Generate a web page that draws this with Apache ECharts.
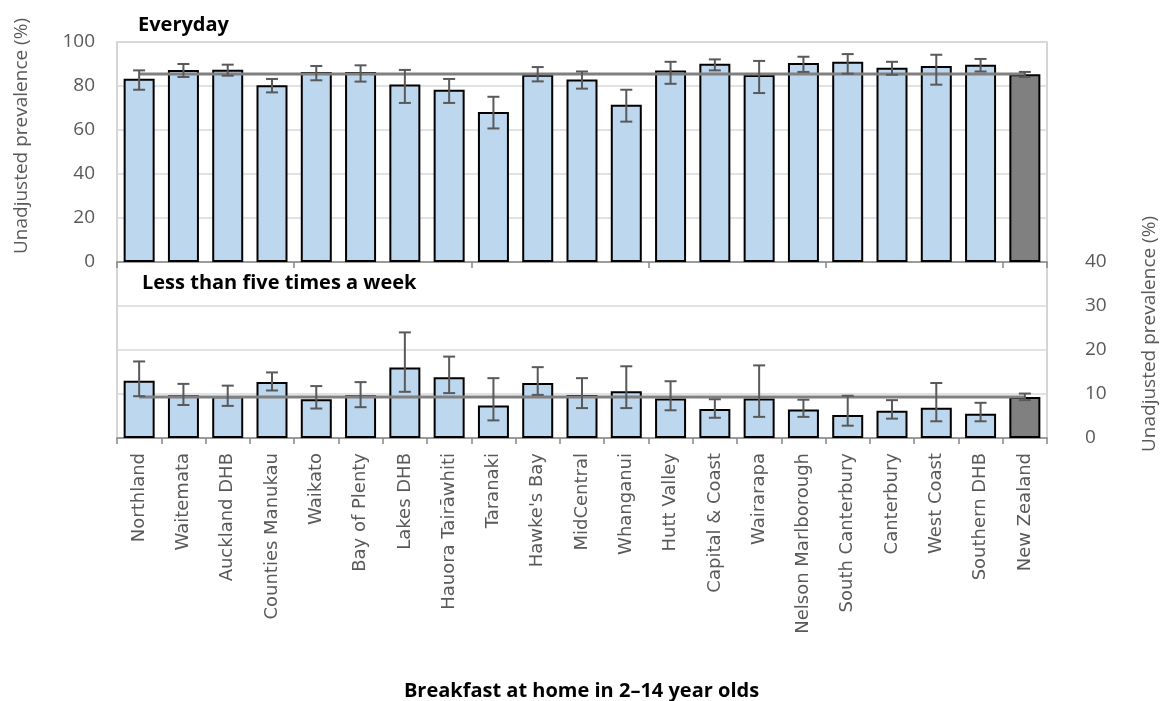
<!DOCTYPE html>
<html><head><meta charset="utf-8">
<script src="https://cdn.jsdelivr.net/npm/echarts@6/dist/echarts.min.js"></script>
<style>html,body{margin:0;padding:0;background:#fff}#c{width:1163px;height:701px}</style>
</head><body><div id="c"></div>
<script>
const categories = ['Northland','Waitemata','Auckland DHB','Counties Manukau','Waikato','Bay of Plenty','Lakes DHB','Hauora Tairāwhiti','Taranaki',"Hawke's Bay",'MidCentral','Whanganui','Hutt Valley','Capital & Coast','Wairarapa','Nelson Marlborough','South Canterbury','Canterbury','West Coast','Southern DHB','New Zealand'];
const everydayValues = [83.3,87.3,87.4,80.3,86.4,86.4,80.7,78.3,68.2,85.1,83.0,71.5,87.0,90.1,85.0,90.4,91.0,88.3,89.1,89.7,85.3];
const everydayLower  = [78.3,84.1,84.7,77.1,82.6,82.0,72.3,72.3,60.7,82.1,78.8,63.8,81.0,87.1,76.8,86.4,85.6,85.1,80.6,86.6,84.1];
const everydayUpper  = [87.1,90.0,89.7,83.2,89.1,89.4,87.3,83.2,75.1,88.6,86.6,78.3,91.0,92.1,91.4,93.3,94.5,91.0,94.2,92.3,86.4];
const lessValues = [13.0,9.7,9.5,12.7,8.8,9.7,16.0,13.8,7.4,12.5,9.8,10.6,9.0,6.6,9.0,6.5,5.2,6.2,6.9,5.5,9.3];
const lessLower  = [9.5,7.5,7.3,10.8,6.7,7.0,10.5,10.2,4.0,9.8,6.8,6.8,6.3,4.6,4.8,4.8,2.8,4.4,3.8,3.8,8.6];
const lessUpper  = [17.4,12.3,11.9,14.9,11.8,12.7,24.0,18.5,13.6,16.1,13.6,16.3,12.9,8.8,16.5,8.7,9.6,8.6,12.5,8.0,10.1];
const everydayNZ = 85.4;
const lessNZ = 9.3;
const everydayTicks = [0, 100, 20];
const lessTicks = [0, 40, 10];
const panelTitles = ['Everyday', 'Less than five times a week'];
const axisTitle = 'Unadjusted prevalence (%)';
const chartTitle = 'Breakfast at home in 2–14 year olds';

const FONT = "'Open Sans', sans-serif";
const CATFONT = "'DejaVu Sans', sans-serif";
const LBL = '#595959';

function barData(vals) {
  return vals.map((v, i) => categories[i] === 'New Zealand'
    ? { value: v, itemStyle: { color: '#808080' } } : v);
}
function errData(lo, hi) { return categories.map((c, i) => [i, lo[i], hi[i]]); }
function errRender(params, api) {
  const x = api.value(0);
  const a = api.coord([x, api.value(1)]);
  const b = api.coord([x, api.value(2)]);
  const hw = 6;
  const st = { stroke: '#595959', lineWidth: 2, fill: null };
  return { type: 'group', children: [
    { type: 'line', shape: { x1: a[0], y1: a[1], x2: b[0], y2: b[1] }, style: st },
    { type: 'line', shape: { x1: a[0]-hw, y1: a[1], x2: a[0]+hw, y2: a[1] }, style: st },
    { type: 'line', shape: { x1: b[0]-hw, y1: b[1], x2: b[0]+hw, y2: b[1] }, style: st }
  ]};
}
function lineData(v) { return [[categories[0], v], [categories[categories.length-1], v]]; }

const chart = echarts.init(document.getElementById('c'), null, { renderer: 'canvas' });
const xCommon = {
  type: 'category', data: categories, boundaryGap: true,
  axisLine: { lineStyle: { color: '#868686', width: 1.5 } },
  axisTick: { show: true, length: 6, lineStyle: { color: '#868686', width: 1.5 } },
  splitLine: { show: false }
};
const titleStyle = { fontFamily: FONT, fontWeight: 'bold', fontSize: 20, color: '#000' };
chart.setOption({
  animation: false,
  backgroundColor: '#fff',
  title: [
    { text: panelTitles[0], left: 138, top: 15, padding: 0, textStyle: titleStyle },
    { text: panelTitles[1], left: 142, top: 273, padding: 0, textStyle: titleStyle },
    { text: chartTitle, left: 'center', top: 681, padding: 0, textStyle: titleStyle }
  ],
  graphic: [
    { type: 'text', x: 22, y: 136, rotation: Math.PI/2, style: { text: axisTitle, fontFamily: FONT, fontSize: 19, fill: LBL, align: 'center', verticalAlign: 'middle' } },
    { type: 'text', x: 1150, y: 334, rotation: Math.PI/2, style: { text: axisTitle, fontFamily: FONT, fontSize: 19, fill: LBL, align: 'center', verticalAlign: 'middle' } }
  ],
  grid: [
    { left: 117, top: 42, width: 930, height: 220, show: true, borderColor: '#C8C8C8', borderWidth: 1.5, backgroundColor: 'transparent' },
    { left: 117, top: 262, width: 930, height: 176, show: true, borderColor: '#C8C8C8', borderWidth: 1.5, backgroundColor: 'transparent' }
  ],
  xAxis: [
    Object.assign({ gridIndex: 0, axisLabel: { show: false } }, xCommon),
    Object.assign({ gridIndex: 1, axisLabel: { show: true, interval: 0, rotate: 90, margin: 15, fontFamily: CATFONT, fontSize: 18, color: LBL } }, xCommon)
  ],
  yAxis: [
    { gridIndex: 0, type: 'value', min: everydayTicks[0], max: everydayTicks[1], interval: everydayTicks[2],
      axisLine: { show: false }, axisTick: { show: false },
      axisLabel: { margin: 22, fontFamily: FONT, fontSize: 19, color: LBL },
      splitLine: { lineStyle: { color: '#D9D9D9', width: 1.5 } } },
    { gridIndex: 1, type: 'value', position: 'right', min: lessTicks[0], max: lessTicks[1], interval: lessTicks[2],
      axisLine: { show: false }, axisTick: { show: false },
      axisLabel: { margin: 38, fontFamily: FONT, fontSize: 19, color: LBL },
      splitLine: { lineStyle: { color: '#D9D9D9', width: 1.5 } } }
  ],
  series: [
    { type: 'bar', xAxisIndex: 0, yAxisIndex: 0, data: barData(everydayValues), barCategoryGap: '30%', z: 2,
      itemStyle: { color: '#BDD7EE', borderColor: '#000', borderWidth: 2 } },
    { type: 'line', xAxisIndex: 0, yAxisIndex: 0, data: lineData(everydayNZ), symbol: 'none', z: 3,
      lineStyle: { color: '#808080', width: 3 } },
    { type: 'custom', xAxisIndex: 0, yAxisIndex: 0, data: errData(everydayLower, everydayUpper), renderItem: errRender, z: 4 },
    { type: 'bar', xAxisIndex: 1, yAxisIndex: 1, data: barData(lessValues), barCategoryGap: '30%', z: 2,
      itemStyle: { color: '#BDD7EE', borderColor: '#000', borderWidth: 2 } },
    { type: 'line', xAxisIndex: 1, yAxisIndex: 1, data: lineData(lessNZ), symbol: 'none', z: 3,
      lineStyle: { color: '#808080', width: 3 } },
    { type: 'custom', xAxisIndex: 1, yAxisIndex: 1, data: errData(lessLower, lessUpper), renderItem: errRender, z: 4 }
  ]
});
</script></body></html>
